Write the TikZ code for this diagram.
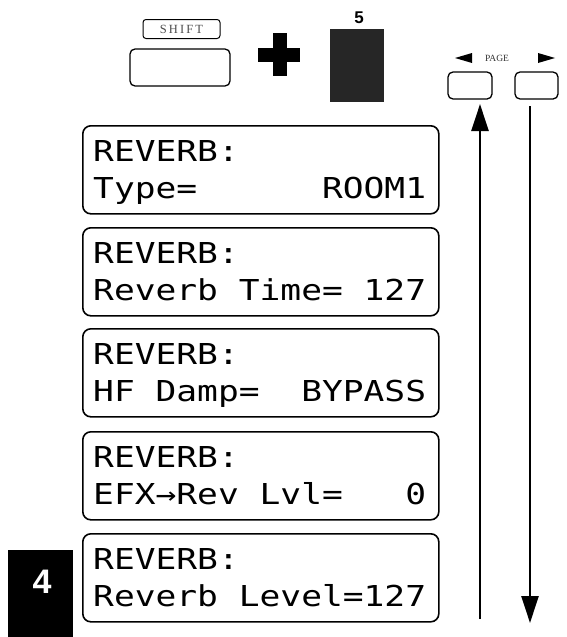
\documentclass[tikz,border=0pt]{standalone}
\usepackage{fontspec}
\usetikzlibrary{arrows.meta}
\setmainfont{Liberation Serif}
\newfontfamily\lcdfont[FakeStretch=1.2]{DejaVu Sans Mono}
\newfontfamily\hdfont{Liberation Sans}
\newcommand\lsp{\phantom{0}}
\tikzset{
  lcdbox/.style={draw, line width=1.6pt, rounded corners=8pt, minimum width=356pt, minimum height=88pt, anchor=north west, inner sep=0pt},
  lcdtext/.style={anchor=base west, inner sep=0pt, font=\fontsize{28.8}{30}\selectfont\lcdfont},
  keybox/.style={draw, line width=1.3pt, rounded corners=5pt, inner sep=0pt},
  longarrow/.style={line width=2.4pt, -{Triangle[width=17pt,length=27pt]}},
}
\begin{document}
\begin{tikzpicture}[x=1pt,y=-1pt]
\useasboundingbox (0,0) rectangle (567,637);
% SHIFT + 5
\node[keybox, line width=1pt, rounded corners=3pt, minimum width=77pt, minimum height=19pt, text=black!70, font=\fontsize{12.5}{12.5}\selectfont] (shiftlbl) at (181.5,29) {S\,H\,I\,F\,T};
\node[keybox, minimum width=100pt, minimum height=37pt] (shiftkey) at (180,67.5) {};
\fill (258,48) rectangle (300,62);
\fill (272.5,33) rectangle (286.5,76);
\node[font=\fontsize{17}{17}\selectfont\hdfont\bfseries] (five) at (359,18) {5};
\node[fill=black!85, minimum width=54pt, minimum height=73pt, inner sep=0pt] (key5) at (357,65.5) {};
% PAGE
\node[font=\fontsize{9.5}{9.5}\selectfont, text=black!80] (page) at (497,58) {PAGE};
\fill (455,58) -- (472,53) -- (472,63) -- cycle;
\fill (555,58) -- (538,53) -- (538,63) -- cycle;
\node[keybox, minimum width=44pt, minimum height=27pt] (pgleft) at (470,85.5) {};
\node[keybox, minimum width=43pt, minimum height=27pt] (pgright) at (536.5,85.5) {};
% LCD boxes
\foreach \i/\t/\a in {1/125/{Type=\lsp\lsp\lsp\lsp\lsp\lsp ROOM1},2/227/{Reverb\lsp Time=\lsp 127},3/328/{HF\lsp Damp=\lsp\lsp BYPASS},4/431/{EFX→Rev\lsp Lvl=\lsp\lsp\lsp 0},5/533/{Reverb\lsp Level=127}}{
  \node[lcdbox] (lcd\i) at (82,\t) {};
  \node[lcdtext] (lcd\i a) at (93,\t+36) {REVERB:};
  \node[lcdtext] (lcd\i b) at (93,\t+73) {\a};
}
% step number
\node[fill=black, minimum width=65pt, minimum height=87pt, inner sep=0pt] (stepbox) at (40.5,593.5) {};
\node[text=white, font=\fontsize{34}{34}\selectfont\hdfont\bfseries, anchor=base] (four) at (42,593) {4};
% arrows
\coordinate (upbot) at (480,619);
\coordinate (uptop) at (480,104);
\coordinate (dntop) at (530,106);
\coordinate (dnbot) at (530,623);
\draw[longarrow] (upbot) -- (uptop);
\draw[longarrow] (dntop) -- (dnbot);
\end{tikzpicture}
\end{document}
